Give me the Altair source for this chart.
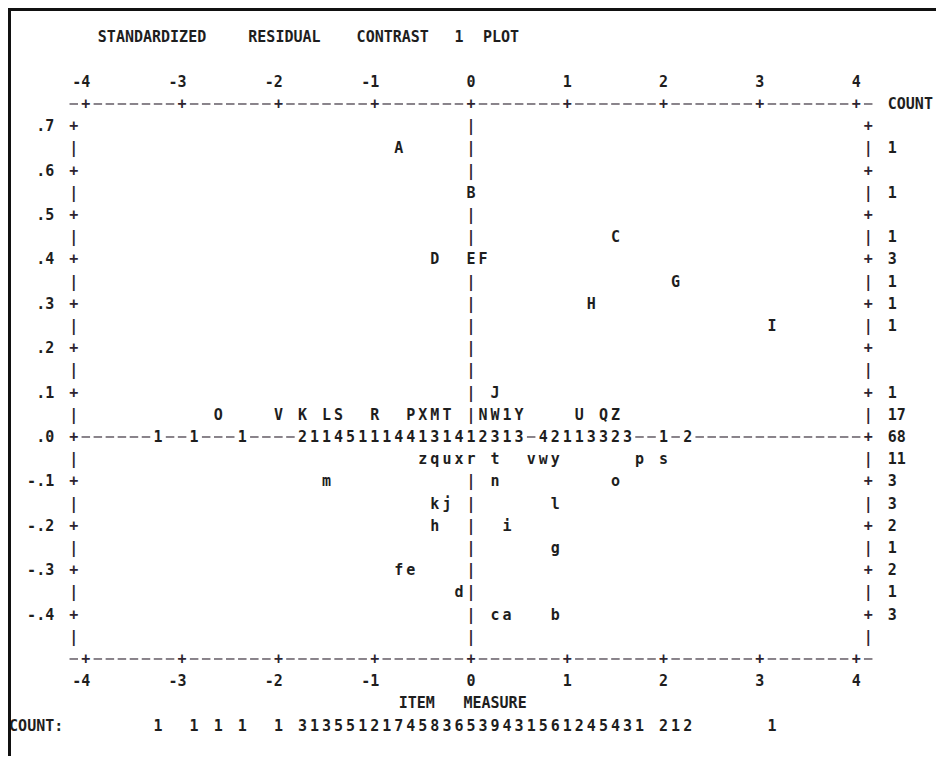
import altair as alt
import pandas as pd

# ---------------- values ----------------
TITLE_WORDS = ["STANDARDIZED", "RESIDUAL", "CONTRAST", "1", "PLOT"]
TITLE_START_COL = [-32, -19, -10, -1, 1]
XLAB_WORDS = ["ITEM", "MEASURE"]
XLAB_START_COL = [-6, -1]

X_TICKS = [-4, -3, -2, -1, 0, 1, 2, 3, 4]
Y_TICKS = [0.7, 0.6, 0.5, 0.4, 0.3, 0.2, 0.1, 0.0, -0.1, -0.2, -0.3, -0.4]
Y_TICK_LABELS = [".7", ".6", ".5", ".4", ".3", ".2", ".1", ".0", "-.1", "-.2", "-.3", "-.4"]

# plotted items: label, item measure, contrast loading
item_labels = ["A", "B", "C", "D", "E", "F", "G", "H", "I", "J",
               "O", "V", "K", "L", "S", "R", "P", "X", "M", "T", "N", "W", "1", "Y", "U", "Q", "Z",
               "z", "q", "u", "x", "r", "t", "v", "w", "y", "p", "s",
               "m", "n", "o", "k", "j", "l", "h", "i", "g", "f", "e", "d", "c", "a", "b"]
item_measure = [-0.750, 0.000, 1.500, -0.375, 0.000, 0.125, 2.125, 1.250, 3.125, 0.250,
                -2.625, -2.000, -1.750, -1.500, -1.375, -1.000, -0.625, -0.500, -0.375, -0.250,
                0.125, 0.250, 0.375, 0.500, 1.125, 1.375, 1.500,
                -0.500, -0.375, -0.250, -0.125, 0.000, 0.250, 0.625, 0.750, 0.875, 1.750, 2.000,
                -1.500, 0.250, 1.500, -0.375, -0.250, 0.875, -0.375, 0.375, 0.875,
                -0.750, -0.625, -0.125, 0.250, 0.375, 0.875]
item_loading = [0.65, 0.55, 0.45, 0.40, 0.40, 0.40, 0.35, 0.30, 0.25, 0.10,
                0.05, 0.05, 0.05, 0.05, 0.05, 0.05, 0.05, 0.05, 0.05, 0.05,
                0.05, 0.05, 0.05, 0.05, 0.05, 0.05, 0.05,
                -0.05, -0.05, -0.05, -0.05, -0.05, -0.05, -0.05, -0.05, -0.05, -0.05, -0.05,
                -0.10, -0.10, -0.10, -0.15, -0.15, -0.15, -0.20, -0.20, -0.25,
                -0.30, -0.30, -0.35, -0.40, -0.40, -0.40]

# items on the .0 line, printed as counts per column
zero_measure = [-3.250, -2.875, -2.375, -1.750, -1.625, -1.500, -1.375, -1.250, -1.125, -1.000,
                -0.875, -0.750, -0.625, -0.500, -0.375, -0.250, -0.125, 0.000, 0.125, 0.250,
                0.375, 0.500, 0.750, 0.875, 1.000, 1.125, 1.250, 1.375, 1.500, 1.625, 2.000, 2.250]
zero_count = [1, 1, 1, 2, 1, 1, 4, 5, 1, 1,
              1, 4, 4, 1, 3, 1, 4, 1, 2, 3,
              1, 3, 4, 2, 1, 1, 3, 3, 2, 3, 1, 2]

# right-hand COUNT column (items per row)
row_loading = [0.65, 0.55, 0.45, 0.40, 0.35, 0.30, 0.25, 0.10, 0.05, 0.00,
               -0.05, -0.10, -0.15, -0.20, -0.25, -0.30, -0.35, -0.40]
row_count = [1, 1, 1, 3, 1, 1, 1, 1, 17, 68, 11, 3, 3, 2, 1, 2, 1, 3]

# bottom COUNT: row (items per measure column)
col_measure = [-3.250, -2.875, -2.625, -2.375, -2.000,
               -1.750, -1.625, -1.500, -1.375, -1.250, -1.125, -1.000, -0.875, -0.750, -0.625,
               -0.500, -0.375, -0.250, -0.125, 0.000, 0.125, 0.250, 0.375, 0.500, 0.625,
               0.750, 0.875, 1.000, 1.125, 1.250, 1.375, 1.500, 1.625, 1.750,
               2.000, 2.125, 2.250, 3.125]
col_count = [1, 1, 1, 1, 1,
             3, 1, 3, 5, 5, 1, 2, 1, 7, 4,
             5, 8, 3, 6, 5, 3, 9, 4, 3, 1,
             5, 6, 1, 2, 4, 5, 4, 3, 1,
             2, 1, 2, 1]

# ---------------- layout of the character grid ----------------
CH = 0.125      # one printed column in measure units
RW = 0.05       # one printed row in loading units
W, H = 928, 748
XDOM = [-4.808, 4.829]
YDOM = [-0.7185, 0.9662]
FONT = "DejaVu Sans Mono"
FS = 15
INK = "#1e1e1e"
LINE = "#2e2430"

xs = alt.Scale(domain=XDOM, nice=False, zero=False)
ys = alt.Scale(domain=YDOM, nice=False, zero=False)
X = alt.X("m:Q", scale=xs, axis=None)
Y = alt.Y("L:Q", scale=ys, axis=None)

TOP, BOT = 0.75, -0.5
LEFT_COL, RIGHT_COL = -33, 33

# frame characters ('+', '|') and dashes
frame_chars = []
dashes = []
for c in range(LEFT_COL, RIGHT_COL + 1):
    for Lr in (TOP, BOT):
        if c % 8 == 0 and abs(c) <= 32:
            frame_chars.append({"m": c * CH, "L": Lr, "t": "+"})
        else:
            dashes.append({"m": c * CH, "L": Lr})

occupied = {(round(mm, 3), round(ll, 2)) for mm, ll in zip(item_measure, item_loading)}
zero_cols = {round(mm, 3) for mm in zero_measure}
for k in range(-9, 15):
    Lr = round(k * RW, 2)
    sym = "+" if k % 2 == 0 else "|"
    frame_chars.append({"m": LEFT_COL * CH, "L": Lr, "t": sym})
    frame_chars.append({"m": RIGHT_COL * CH, "L": Lr, "t": sym})
    if Lr != 0.0 and (0.0, Lr) not in occupied:
        frame_chars.append({"m": 0.0, "L": Lr, "t": "|"})
for c in range(LEFT_COL + 1, RIGHT_COL):
    if round(c * CH, 3) not in zero_cols:
        dashes.append({"m": c * CH, "L": 0.0})

frame_df = pd.DataFrame(frame_chars)
dash_df = pd.DataFrame(dashes)

items_df = pd.DataFrame({"m": item_measure, "L": item_loading, "t": item_labels})
zero_df = pd.DataFrame({"m": zero_measure, "L": [0.0] * len(zero_measure),
                        "t": [str(v) for v in zero_count]})
bottom_df = pd.DataFrame({"m": col_measure, "L": [-0.65] * len(col_measure),
                          "t": [str(v) for v in col_count]})
grid_text = pd.concat([items_df, zero_df, bottom_df], ignore_index=True)

right_df = pd.DataFrame({"m": [(RIGHT_COL + 2) * CH] * (len(row_loading) + 1),
                         "L": row_loading + [TOP],
                         "t": [str(v) for v in row_count] + ["COUNT"]})
left_df = pd.DataFrame({"m": [-38 * CH], "L": [-0.65], "t": ["COUNT:"]})

xt_df = pd.DataFrame({"m": X_TICKS * 2,
                      "L": [0.8] * len(X_TICKS) + [-0.55] * len(X_TICKS),
                      "t": [str(v) for v in X_TICKS] * 2})
yt_df = pd.DataFrame({"m": [-35 * CH] * len(Y_TICKS), "L": Y_TICKS, "t": Y_TICK_LABELS})
ticklab_df = pd.concat([xt_df, yt_df], ignore_index=True)

words = []
for w, s in zip(TITLE_WORDS, TITLE_START_COL):
    words.append({"m": (s + (len(w) - 1) / 2) * CH, "L": 0.9, "t": w})
for w, s in zip(XLAB_WORDS, XLAB_START_COL):
    words.append({"m": (s + (len(w) - 1) / 2) * CH, "L": -0.6, "t": w})
words_df = pd.DataFrame(words)

txt = dict(font=FONT, fontSize=FS, fontWeight="bold", baseline="middle")

l_frame = alt.Chart(frame_df).mark_text(align="center", color=LINE, **txt).encode(x=X, y=Y, text="t:N")
l_dash = alt.Chart(dash_df).mark_tick(orient="horizontal", size=8.5, thickness=1.6, color=LINE).encode(x=X, y=Y)
l_grid = alt.Chart(grid_text).mark_text(align="center", color=INK, **txt).encode(x=X, y=Y, text="t:N")
l_right = alt.Chart(right_df).mark_text(align="left", dx=-4.5, color=INK, **txt).encode(x=X, y=Y, text="t:N")
l_left = alt.Chart(left_df).mark_text(align="left", dx=-4.5, color=INK, **txt).encode(x=X, y=Y, text="t:N")
l_ticks = alt.Chart(ticklab_df).mark_text(align="right", dx=4.5, color=INK, **txt).encode(x=X, y=Y, text="t:N")
l_words = alt.Chart(words_df).mark_text(align="center", color=INK, **txt).encode(x=X, y=Y, text="t:N")

border_df = pd.DataFrame({"k": [0]})
l_bl = alt.Chart(border_df).mark_rule(color="#111", strokeWidth=3).encode(
    x=alt.value(1.5), y=alt.value(0), y2=alt.value(H))
l_bt = alt.Chart(border_df).mark_rule(color="#111", strokeWidth=3).encode(
    y=alt.value(1.5), x=alt.value(0), x2=alt.value(W))

chart = alt.layer(l_dash, l_frame, l_grid, l_right, l_left, l_ticks, l_words, l_bl, l_bt).properties(
    width=W, height=H, padding=0, autosize=alt.AutoSizeParams(type="none"), background="white"
).configure_view(stroke=None)

chart.save("out.html", embed_options={"renderer": "svg", "actions": False})
